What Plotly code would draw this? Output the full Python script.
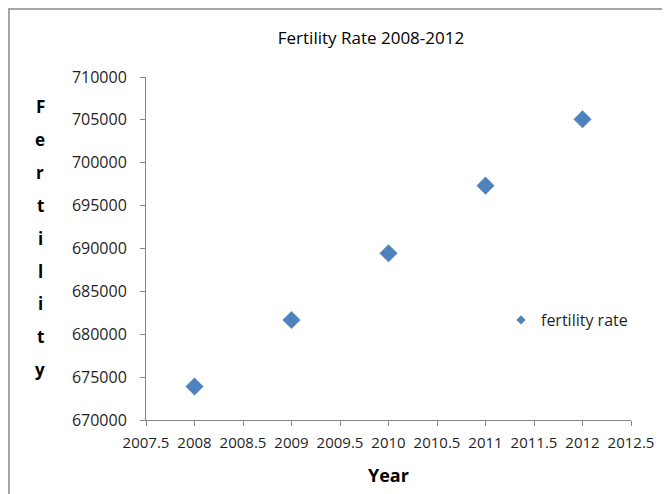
import plotly.graph_objects as go

# ---- data ----
years = [2008, 2009, 2010, 2011, 2012]
fertility = [673900, 681660, 689440, 697330, 705070]
x_tickvals = [2007.5, 2008, 2008.5, 2009, 2009.5, 2010, 2010.5, 2011, 2011.5, 2012, 2012.5]
x_ticktext = ["2007.5", "2008", "2008.5", "2009", "2009.5", "2010",
              "2010.5", "2011", "2011.5", "2012", "2012.5"]
series_name = "fertility rate"
chart_title = "Fertility Rate 2008-2012"
x_title = "Year"
y_title = "Fertility"

# page has an 8px body margin; target coordinates are in window pixels
OX, OY = 8, 8
W, H = 670 - OX, 494 - OY
PL, PR, PT, PB = 146, 631, 77, 420          # plot area in window pixels
L, R, T, B = PL - OX, 670 - PR, PT - OY, 494 - PB
pw, ph = PR - PL, PB - PT

def px2x(px):
    return (px - PL) / pw

def py2y(py):
    return (PB - py) / ph

blue = "#4F81BD"
font = "Open Sans"
txt = "#1f1f1f"

fig = go.Figure()
fig.add_trace(go.Scatter(
    x=years, y=fertility, mode="markers", name=series_name, showlegend=False,
    marker=dict(symbol="diamond", size=13.5, color=blue,
                line=dict(width=0.5, color="#5b8cc6")),
))
# legend-only trace with smaller marker
fig.add_trace(go.Scatter(
    x=[None], y=[None], mode="markers", name=series_name,
    marker=dict(symbol="diamond", size=7, color=blue),
))

annotations = []
start, step = 107, 32.8
for i, ch in enumerate(y_title):
    annotations.append(dict(
        text=ch, x=px2x(40), y=py2y(start + i * step), xref="paper", yref="paper",
        showarrow=False, xanchor="center", yanchor="middle",
        font=dict(family=font, size=17, color="#000", weight="bold"),
    ))
annotations.append(dict(
    text=x_title, x=px2x(388), y=py2y(475), xref="paper", yref="paper",
    showarrow=False, xanchor="center", yanchor="middle",
    font=dict(family=font, size=18, color="#000", weight="bold"),
))

fig.update_layout(
    width=W, height=H,
    margin=dict(l=L, r=R, t=T, b=B),
    paper_bgcolor="white", plot_bgcolor="white",
    font=dict(family=font, size=15, color=txt),
    title=dict(text=chart_title, x=px2x(371), xref="paper", xanchor="center",
               y=1 - (38 - OY) / H, yref="container", yanchor="middle",
               font=dict(family=font, size=17, color="#000")),
    showlegend=True,
    legend=dict(x=px2x(501), y=py2y(320), xanchor="left", yanchor="middle",
                bgcolor="rgba(0,0,0,0)", font=dict(family=font, size=16, color=txt)),
    annotations=annotations,
    shapes=[dict(type="rect", xref="paper", yref="paper",
                 x0=px2x(9), x1=px2x(720), y0=py2y(560), y1=py2y(9),
                 line=dict(color="#a6a6a6", width=2), layer="below")],
)
fig.update_xaxes(range=[2007.5, 2012.5], tickvals=x_tickvals, ticktext=x_ticktext,
                 showgrid=False, zeroline=False, showline=True,
                 linecolor="#868686", linewidth=1,
                 ticks="outside", ticklen=5, tickcolor="#868686",
                 ticklabelstandoff=4,
                 tickfont=dict(family=font, size=15, color=txt))
fig.update_yaxes(range=[670000, 710000], dtick=5000, tick0=670000, tickformat="d",
                 showgrid=False, zeroline=False, showline=True,
                 linecolor="#868686", linewidth=1,
                 ticks="outside", ticklen=5, tickcolor="#868686",
                 ticklabelstandoff=10,
                 tickfont=dict(family=font, size=16, color=txt))

fig.write_html("out.html")
